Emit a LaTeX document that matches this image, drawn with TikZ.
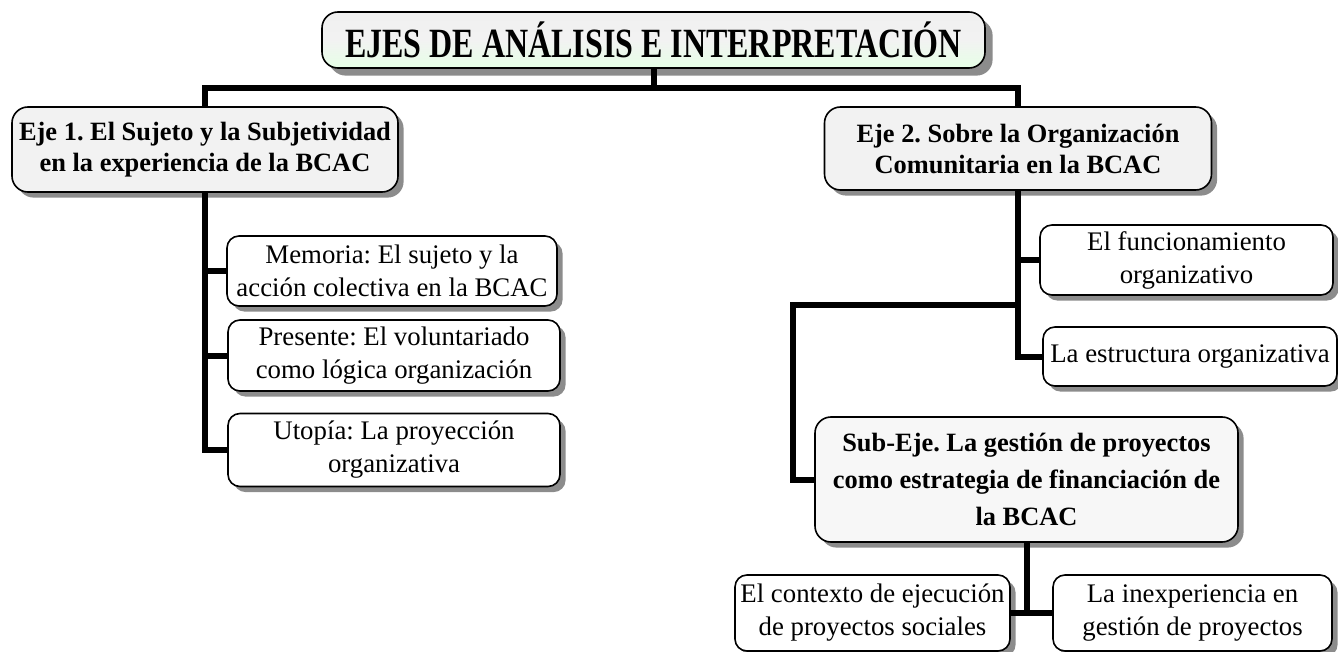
\documentclass[tikz,border=0pt]{standalone}
\usepackage{fontspec}
\setmainfont{Liberation Serif}
\usepackage{graphicx}
\usepackage{tikz}
\usetikzlibrary{positioning, shadows, calc}
\frenchspacing

\begin{document}
\begin{tikzpicture}[x=0.5pt, y=-0.5pt]
	% Define styles
	\tikzset{
		box/.style={rectangle, draw, line width=0.8pt, rounded corners=6pt, fill=white, align=center, inner sep=1pt,
			font=\fontsize{13.4}{16.5}\selectfont,
			drop shadow={shadow xshift=2.8pt, shadow yshift=-2.8pt, fill=black!45, opacity=1}},
		axis/.style={box, fill=gray!10, rounded corners=8pt, font=\fontsize{13.2}{15.5}\selectfont\bfseries},
		headbox/.style={axis, top color=gray!12, bottom color=green!10!white, middle color=gray!10,
			drop shadow={shadow xshift=3.8pt, shadow yshift=-3.8pt, fill=black!45, opacity=1}},
		link/.style={draw, line width=3pt}
	}
	\useasboundingbox (0,0) rectangle (1338,652);
	
	% Nodes
	\node[headbox, minimum width=331.5pt, minimum height=28pt] (ejes) at (653.5,40)
		{\scalebox{1}[1.3]{\fontsize{16}{18}\selectfont EJES DE ANÁLISIS E INTERPRETACIÓN}};
	
	\node[axis, minimum width=193pt, minimum height=42.5pt] (eje1) at (205,149.5)
		{Eje 1. El Sujeto y la Subjetividad\\ en la experiencia de la BCAC};
	\node[axis, minimum width=193.5pt, minimum height=41.5pt] (eje2) at (1018,148.5)
		{Eje 2. Sobre la Organización\\ Comunitaria en la BCAC};
	
	\node[box, minimum width=165pt, minimum height=35pt] (memoria) at (392,271)
		{Memoria: El sujeto y la\\ acción colectiva en la BCAC};
	\node[box, minimum width=166pt, minimum height=35.5pt] (presente) at (394,355.5)
		{Presente: El voluntariado\\ como lógica organización};
	\node[box, minimum width=166pt, minimum height=36.5pt] (utopia) at (394,450)
		{Utopía: La proyección\\ organizativa};
	
	\node[box, minimum width=146.5pt, minimum height=35pt] (funcion) at (1186.5,260)
		{El funcionamiento\\ organizativo};
	\node[box, minimum width=147pt, minimum height=29.5pt] (estructura) at (1190,356.5)
		{La estructura organizativa};
	
	\node[axis, fill=gray!6, minimum width=211.5pt, minimum height=62.5pt, font=\fontsize{13.2}{18.5}\selectfont\bfseries] (subeje) at (1026.5,479.5)
		{Sub-Eje. La gestión de proyectos\\ como estrategia de financiación de\\ la BCAC};
	
	\node[box, minimum width=137.5pt, minimum height=38pt] (contexto) at (872.5,613)
		{El contexto de ejecución\\ de proyectos sociales};
	\node[box, minimum width=139.5pt, minimum height=38pt] (inexp) at (1192.5,613)
		{La inexperiencia en\\ gestión de proyectos};
	
	\coordinate (bar) at (653.5,88);
	\coordinate (turn) at (793,305);
	
	% Connectors
	\path [link] (ejes) -- (bar);
	\path [link] (bar) -| (eje1);
	\path [link] (bar) -| (eje2);
	
	\path [link] (eje1) |- (memoria);
	\path [link] (eje1) |- (presente);
	\path [link] (eje1) |- (utopia);
	
	\path [link] (eje2) |- (funcion);
	\path [link] (eje2) |- (estructura);
	\path [link] (eje2 |- turn) -- (turn) |- (subeje);
	
	\path [link] (subeje) -- (subeje |- contexto);
	\path [link] (contexto) -- (inexp);
\end{tikzpicture}
\end{document}
